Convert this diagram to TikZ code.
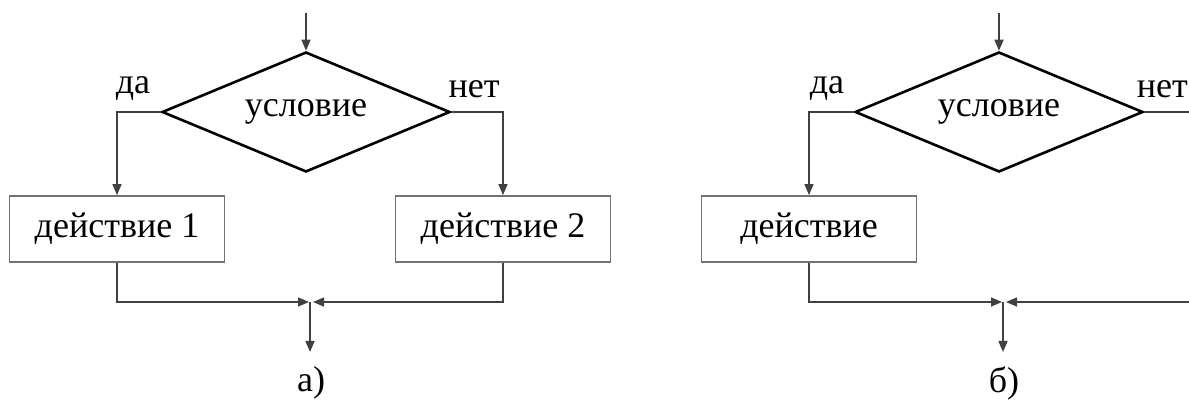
\documentclass[tikz,border=0pt]{standalone}
\usepackage{fontspec}
\setmainfont{Liberation Serif}
\usetikzlibrary{shapes.geometric,arrows.meta}
\begin{document}
\begin{tikzpicture}[x=1pt,y=-1pt,
  cond/.style={diamond, draw=black, line width=2.6pt, aspect=2.4, inner sep=0pt,
    minimum width=288pt, minimum height=120pt},
  act/.style={rectangle, draw=black!55, line width=1.8pt, minimum width=215pt,
    minimum height=66pt, inner sep=0pt},
  line/.style={draw=black!75, line width=1.5pt},
  arr/.style={line, -{Triangle[length=11pt,width=9pt]}},
  font=\fontsize{36}{42}\selectfont]

\clip (0,0) rectangle (1189,403);
\useasboundingbox (0,0) rectangle (1189,403);

\coordinate (inA) at (306,13);
\node[cond] (condA) at (306,112) {условие};
\node[act] (actA1) at (117,229) {действие 1};
\node[act] (actA2) at (503,229) {действие 2};
\node (yesA) at (133,89) {да};
\node (noA) at (474,89) {нет};
\coordinate (mA) at (310,302);
\coordinate (outA) at (310,352);
\node (capA) at (311,383) {а)};

\draw[arr] (inA) -- (condA.north);
\draw[arr] (condA.west) -| (actA1.north);
\draw[arr] (condA.east) -| (actA2.north);
\draw[arr] (actA1.south) |- ([xshift=-1pt]mA);
\draw[arr] (actA2.south) |- ([xshift=3pt]mA);
\draw[arr] (mA) -- (outA);

\coordinate (inB) at (999,13);
\node[cond] (condB) at (999,112) {условие};
\node[act] (actB) at (809,229) {действие};
\node (yesB) at (827,89) {да};
\node[anchor=east, inner sep=0pt] (noB) at (1188,89) {нет};
\coordinate (edgeB) at (1189,112);
\coordinate (retB) at (1189,302);
\coordinate (mB) at (1003,302);
\coordinate (outB) at (1003,352);
\node (capB) at (1004,383) {б)};

\draw[arr] (inB) -- (condB.north);
\draw[arr] (condB.west) -| (actB.north);
\draw[line] (condB.east) -- (edgeB);
\draw[arr] (actB.south) |- ([xshift=-1pt]mB);
\draw[arr] (retB) -- ([xshift=3pt]mB);
\draw[arr] (mB) -- (outB);
\end{tikzpicture}
\end{document}
